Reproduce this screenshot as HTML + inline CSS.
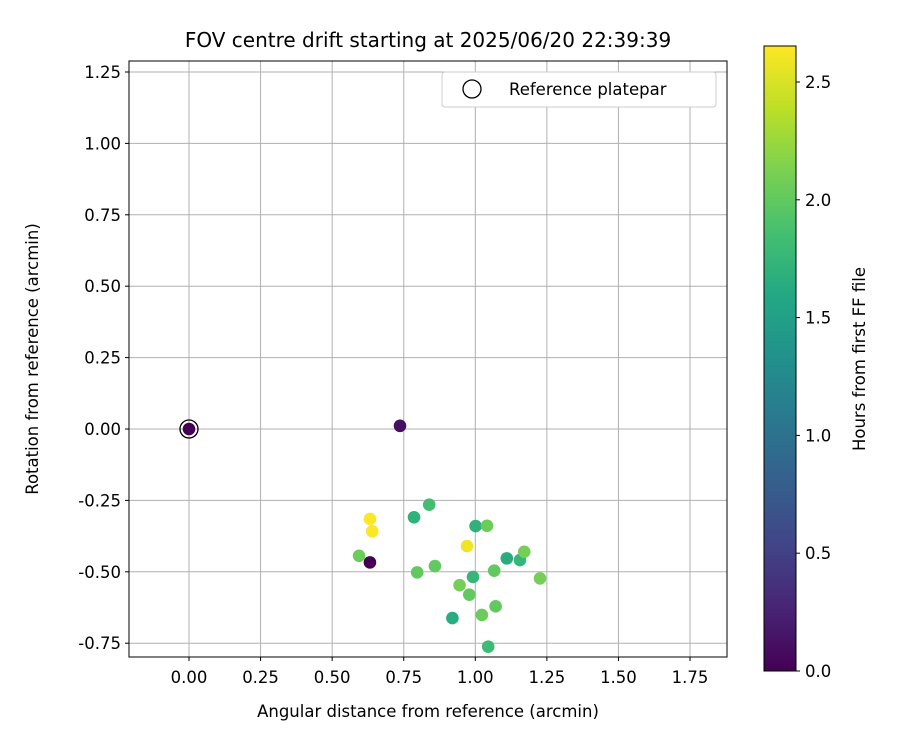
<!DOCTYPE html>
<html><head><meta charset="utf-8"><style>
body{margin:0;background:#fff}
svg text{font-family:"DejaVu Sans","Liberation Sans",sans-serif;fill:#000}
</style></head><body>
<svg id="chart" width="900" height="750" xmlns="http://www.w3.org/2000/svg">
<defs><linearGradient id="vir" x1="0" y1="1" x2="0" y2="0">
<stop offset="0" stop-color="#440154"/><stop offset="0.1" stop-color="#482475"/><stop offset="0.2" stop-color="#414487"/><stop offset="0.3" stop-color="#355f8d"/><stop offset="0.4" stop-color="#2a788e"/><stop offset="0.5" stop-color="#21918c"/><stop offset="0.6" stop-color="#22a884"/><stop offset="0.7" stop-color="#44bf70"/><stop offset="0.8" stop-color="#7ad151"/><stop offset="0.9" stop-color="#bddf26"/><stop offset="1" stop-color="#fde725"/></linearGradient></defs>
<rect width="900" height="750" fill="#fff"/>
<text x="428" y="47" font-size="20" text-anchor="middle">FOV centre drift starting at 2025/06/20 22:39:39</text>
<g id="grid"></g><g id="pts"></g>
<rect x="129" y="61" width="598" height="596" fill="none" stroke="#000" stroke-width="1"/>
<g id="ticks"></g>
<text x="428" y="717" font-size="16.5" text-anchor="middle">Angular distance from reference (arcmin)</text>
<text transform="translate(38,359) rotate(-90)" font-size="16.5" text-anchor="middle">Rotation from reference (arcmin)</text>
<g>
<rect x="442" y="72" width="274" height="35" rx="3" fill="#fff" stroke="#ccc"/>
<circle cx="472" cy="89" r="9" fill="none" stroke="#000" stroke-width="1.3"/>
<text x="509" y="95" font-size="16.5">Reference platepar</text></g>
<rect x="764" y="46" width="32" height="625" fill="url(#vir)" stroke="#000"/>
<g id="cbt"></g>
<text transform="translate(865,359) rotate(-90)" font-size="16.5" text-anchor="middle">Hours from first FF file</text>
</svg>
<script>
const xs=[0.737,0.839,0.786,0.632,0.640,1.001,1.041,0.971,0.594,0.632,1.110,1.156,1.171,0.797,0.859,1.066,1.226,0.992,0.945,0.979,1.071,1.023,0.920,1.045,0.0];
const ys=[0.011,-0.265,-0.309,-0.315,-0.358,-0.340,-0.339,-0.410,-0.444,-0.467,-0.453,-0.459,-0.430,-0.502,-0.480,-0.496,-0.523,-0.518,-0.547,-0.580,-0.621,-0.651,-0.662,-0.762,0.0];
const hrs=[0.1,1.85,1.7,2.65,2.64,1.7,2.05,2.6,2.05,0.0,1.65,1.75,2.1,2.0,2.0,2.0,2.1,1.75,2.1,2.0,2.0,2.05,1.65,1.8,0.0];
const xTicks=[0,0.25,0.5,0.75,1,1.25,1.5,1.75];
const yTicks=[-0.75,-0.5,-0.25,0,0.25,0.5,0.75,1,1.25];
const cTicks=[0,0.5,1,1.5,2,2.5];
const X=v=>189+v*286.3, Y=v=>429-v*285.6, C=v=>671-v*235.6, CMAX=2.653;
const vs=["#440154","#482475","#414487","#355f8d","#2a788e","#21918c","#22a884","#44bf70","#7ad151","#bddf26","#fde725"];
function vir(t){t=Math.max(0,Math.min(1,t))*(vs.length-1);const i=Math.min(vs.length-2,Math.floor(t)),f=t-i;
const a=vs[i],b=vs[i+1];const c=k=>Math.round(parseInt(a.substr(k,2),16)*(1-f)+parseInt(b.substr(k,2),16)*f);return`rgb(${c(1)},${c(3)},${c(5)})`;}
const NS="http://www.w3.org/2000/svg";
function mk(p,t,a){const e=document.createElementNS(NS,t);for(const k in a)e.setAttribute(k,a[k]);p.appendChild(e);return e;}
const g=document.getElementById('grid'),tk=document.getElementById('ticks'),pts=document.getElementById('pts'),cb=document.getElementById('cbt');
xTicks.forEach(v=>{const x=X(v);
const l=mk(g,'line',{x1:x,x2:x,y1:61,y2:657,stroke:'#b0b0b0','stroke-width':1});


mk(tk,'line',{x1:x,x2:x,y1:657,y2:661,stroke:'#000'});
const t=mk(tk,'text',{x:x,y:683,'font-size':16.5,'text-anchor':'middle'});t.textContent=v.toFixed(2);

});
yTicks.forEach(v=>{const y=Y(v);
const l=mk(g,'line',{x1:129,x2:727,y1:y,y2:y,stroke:'#b0b0b0','stroke-width':1});


mk(tk,'line',{x1:125,x2:129,y1:y,y2:y,stroke:'#000'});
const t=mk(tk,'text',{x:121,y:y+6,'font-size':16.5,'text-anchor':'end'});t.textContent=v.toFixed(2);

});
cTicks.forEach(v=>{const y=C(v);
mk(cb,'line',{x1:796,x2:800,y1:y,y2:y,stroke:'#000'});
const t=mk(cb,'text',{x:805,y:y+6,'font-size':16.5});t.textContent=v.toFixed(1);

});
xs.forEach((v,i)=>{const c=mk(pts,'circle',{cx:X(v),cy:Y(ys[i]),r:6.3,fill:vir(hrs[i]/CMAX)});

});
const r=mk(pts,'circle',{cx:X(0),cy:Y(0),r:9,fill:'none',stroke:'#000','stroke-width':1.3});


</script>
</body></html>
